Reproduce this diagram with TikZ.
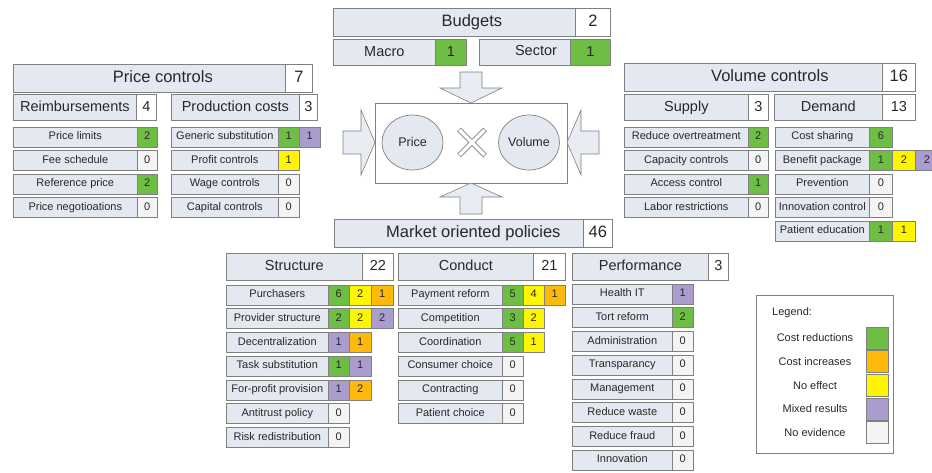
\documentclass[tikz,border=0pt]{standalone}
\usepackage{fontspec}
\setmainfont{Liberation Sans}
\usetikzlibrary{shapes.geometric}
\definecolor{bgray}{RGB}{128,128,128}
\definecolor{hfill}{RGB}{228,232,241}
\definecolor{txt}{RGB}{40,40,40}
\definecolor{cgreen}{RGB}{110,190,70}
\definecolor{cyellow}{RGB}{255,245,0}
\definecolor{corange}{RGB}{255,185,10}
\definecolor{cpurple}{RGB}{170,156,206}
\definecolor{czero}{RGB}{244,244,244}
\definecolor{afill}{RGB}{232,236,243}
\tikzset{
 hbase/.style={draw=bgray, line width=0.7pt, inner sep=0pt, anchor=north west, text=txt},
 hlab/.style={hbase, fill=hfill},
 hnum/.style={hbase, fill=white},
 big/.style={font=\fontsize{16.5}{18}\selectfont, text height=11.9pt, text depth=3.5pt},
 mid/.style={font=\fontsize{14.5}{16}\selectfont, text height=10.4pt, text depth=3pt},
 rbase/.style={draw=bgray, line width=0.6pt, inner sep=0pt, anchor=west, minimum height=20pt, font=\fontsize{11}{12}\selectfont, text height=7.9pt, text depth=2.3pt, text=txt},
 rlab/.style={rbase, fill=hfill},
 rcell/.style={rbase},
 cg/.style={fill=cgreen}, cy/.style={fill=cyellow}, co/.style={fill=corange},
 cp/.style={fill=cpurple}, cz/.style={fill=czero},
 ell/.style={ellipse, draw=bgray, line width=0.7pt, fill=hfill, minimum width=61pt, minimum height=55pt, inner sep=0pt, font=\fontsize{12.5}{14}\selectfont, text=txt},
 bigarrow/.style={draw=bgray, line width=0.6pt, fill=afill},
 legtxt/.style={font=\fontsize{11}{12}\selectfont, text=txt, inner sep=0pt},
 swatch/.style={draw=bgray, line width=0.6pt, minimum width=22pt, minimum height=22pt, inner sep=0pt},
 numtxt/.style={big, text=txt, inner sep=0pt},
}
% big header: text centred on the whole box, number box laid over its right end
\newcommand{\BigHdr}[7]{%
 \node[hlab, big, minimum width={#4-#2}, minimum height={#6-#5}] (#1) at (#2,#5) {#7};
 \node[hnum, big, minimum width={#4-#3}, minimum height={#6-#5}] (#1n) at (#3,#5) {};}
\newcommand{\HPair}[9]{%
 \node[hlab, #9, minimum width={#3-#2}, minimum height={#6-#5}] (#1) at (#2,#5) {#7};
 \node[hnum, #9, minimum width={#4-#3}, minimum height={#6-#5}] (#1n) at (#3,#5) {#8};}
\newcommand{\RowL}[5]{\node[rlab, minimum width={#3-#2}] (#1) at (#2,#4) {#5};}
\newcommand{\CellN}[6]{\node[rcell, #5, minimum width=#3] (#1) at (#2,#4) {#6};}
\begin{document}
\begin{tikzpicture}[x=1pt, y=-1pt]
\useasboundingbox (0,0) rectangle (932,472);
% ---------- Budgets ----------
\BigHdr{bud}{333}{575}{610}{8}{36}{Budgets}
\node[numtxt] (budv) at (budn.center) {2};
\node[hlab, mid, minimum width=102, minimum height=26] (macro) at (333,39) {Macro};
\node[hbase, fill=cgreen, mid, minimum width=31, minimum height=26] (macron) at (435,39) {1};
\node[hlab, mid, minimum width=91, minimum height=26] (sector) at (479,39) {};
\node[mid, text=txt, inner sep=0pt] (sectort) at (536,52) {Sector};
\node[hbase, fill=cgreen, mid, minimum width=40, minimum height=26] (sectorn) at (570,39) {1};
% ---------- Centre ----------
\node[draw=bgray, line width=0.7pt, fill=white, minimum width=192, minimum height=80, inner sep=0pt] (core) at (471,143) {};
\node[ell] (price) at (412.5,142.5) {Price};
\node[ell] (volume) at (529,142.5) {Volume};
\coordinate (cross) at (472,142.5);
\draw[bgray, line width=5pt] ([shift={(-13,-13)}]cross) -- ([shift={(13,13)}]cross)
  ([shift={(-13,13)}]cross) -- ([shift={(13,-13)}]cross);
\draw[white, line width=3.4pt] ([shift={(-12.6,-12.6)}]cross) -- ([shift={(12.6,12.6)}]cross)
  ([shift={(-12.6,12.6)}]cross) -- ([shift={(12.6,-12.6)}]cross);
\draw[bigarrow] (460,72) -- (482,72) -- (482,88) -- (502,88) -- (471,103) -- (440,88) -- (460,88) -- cycle;
\draw[bigarrow] (460,214) -- (482,214) -- (482,197) -- (502,197) -- (471,183) -- (440,197) -- (460,197) -- cycle;
\draw[bigarrow] (343,131) -- (361,131) -- (361,110) -- (375,142.5) -- (361,175) -- (361,154) -- (343,154) -- cycle;
\draw[bigarrow] (599,131) -- (581,131) -- (581,110) -- (567,142.5) -- (581,175) -- (581,154) -- (599,154) -- cycle;
% ---------- Price controls ----------
\BigHdr{pc}{13}{285}{312}{64}{92}{Price controls}
\node[numtxt] (pcv) at (pcn.center) {7};
\HPair{reimb}{13}{136}{156}{94}{120}{Reimbursements}{4}{mid}
\HPair{prod}{171}{299}{317}{94}{120}{Production costs}{3}{mid}
\RowL{r1}{13}{137}{137}{Price limits}       \CellN{r1a}{137}{20}{137}{cg}{2}
\RowL{r2}{13}{137}{160.5}{Fee schedule}     \CellN{r2a}{137}{20}{160.5}{cz}{0}
\RowL{r3}{13}{137}{184}{Reference price}    \CellN{r3a}{137}{20}{184}{cg}{2}
\RowL{r4}{13}{137}{207.5}{Price negotioations} \CellN{r4a}{137}{20}{207.5}{cz}{0}
\RowL{p1}{171}{278}{137}{Generic substitution} \CellN{p1a}{278}{21}{137}{cg}{1} \CellN{p1b}{299}{21}{137}{cp}{1}
\RowL{p2}{171}{278}{160.5}{Profit controls} \CellN{p2a}{278}{21}{160.5}{cy}{1}
\RowL{p3}{171}{278}{184}{Wage controls}     \CellN{p3a}{278}{21}{184}{cz}{0}
\RowL{p4}{171}{278}{207.5}{Capital controls} \CellN{p4a}{278}{21}{207.5}{cz}{0}
% ---------- Volume controls ----------
\BigHdr{vc}{624}{882}{915}{63}{91}{Volume controls}
\node[numtxt] (vcv) at (vcn.center) {16};
\HPair{sup}{624}{748}{768}{94}{120}{Supply}{3}{mid}
\HPair{dem}{774}{882}{915}{94}{120}{Demand}{13}{mid}
\RowL{s1}{624}{748}{137}{Reduce overtreatment} \CellN{s1a}{748}{20}{137}{cg}{2}
\RowL{s2}{624}{748}{160.5}{Capacity controls}  \CellN{s2a}{748}{20}{160.5}{cz}{0}
\RowL{s3}{624}{748}{184}{Access control}       \CellN{s3a}{748}{20}{184}{cg}{1}
\RowL{s4}{624}{748}{207.5}{Labor restrictions} \CellN{s4a}{748}{20}{207.5}{cz}{0}
\RowL{d1}{775}{869}{137}{Cost sharing}      \CellN{d1a}{869}{23}{137}{cg}{6}
\RowL{d2}{775}{869}{160.5}{Benefit package} \CellN{d2a}{869}{23}{160.5}{cg}{1} \CellN{d2b}{892}{23}{160.5}{cy}{2} \CellN{d2c}{915}{23}{160.5}{cp}{2}
\RowL{d3}{775}{869}{184}{Prevention}        \CellN{d3a}{869}{23}{184}{cz}{0}
\RowL{d4}{775}{869}{207.5}{Innovation control} \CellN{d4a}{869}{23}{207.5}{cz}{0}
\RowL{d5}{775}{869}{231}{Patient education} \CellN{d5a}{869}{23}{231}{cg}{1} \CellN{d5b}{892}{23}{231}{cy}{1}
% ---------- Market oriented policies ----------
\BigHdr{mop}{334}{583}{612}{219}{247}{Market oriented policies}
\node[numtxt] (mopv) at (mopn.center) {46};
\HPair{str}{226}{362}{393}{253}{280}{Structure}{22}{mid}
\HPair{con}{398}{533}{565}{253}{280}{Conduct}{21}{mid}
\HPair{per}{572}{708}{728}{253}{280}{Performance}{3}{mid}
\RowL{t1}{226}{328}{295}{Purchasers}           \CellN{t1a}{328}{21}{295}{cg}{6} \CellN{t1b}{349}{22}{295}{cy}{2} \CellN{t1c}{371}{22}{295}{co}{1}
\RowL{t2}{226}{328}{318.7}{Provider structure} \CellN{t2a}{328}{21}{318.7}{cg}{2} \CellN{t2b}{349}{22}{318.7}{cy}{2} \CellN{t2c}{371}{22}{318.7}{cp}{2}
\RowL{t3}{226}{328}{342.4}{Decentralization}   \CellN{t3a}{328}{21}{342.4}{cp}{1} \CellN{t3b}{349}{22}{342.4}{co}{1}
\RowL{t4}{226}{328}{366.1}{Task substitution}  \CellN{t4a}{328}{21}{366.1}{cg}{1} \CellN{t4b}{349}{22}{366.1}{cp}{1}
\RowL{t5}{226}{328}{389.8}{For-profit provision} \CellN{t5a}{328}{21}{389.8}{cp}{1} \CellN{t5b}{349}{22}{389.8}{co}{2}
\RowL{t6}{226}{328}{413.5}{Antitrust policy}   \CellN{t6a}{328}{21}{413.5}{cz}{0}
\RowL{t7}{226}{328}{437.2}{Risk redistribution} \CellN{t7a}{328}{21}{437.2}{cz}{0}
\RowL{c1}{398}{502}{295}{Payment reform}   \CellN{c1a}{502}{21}{295}{cg}{5} \CellN{c1b}{523}{21}{295}{cy}{4} \CellN{c1c}{544}{21}{295}{co}{1}
\RowL{c2}{398}{502}{318.7}{Competition}    \CellN{c2a}{502}{21}{318.7}{cg}{3} \CellN{c2b}{523}{21}{318.7}{cy}{2}
\RowL{c3}{398}{502}{342.4}{Coordination}   \CellN{c3a}{502}{21}{342.4}{cg}{5} \CellN{c3b}{523}{21}{342.4}{cy}{1}
\RowL{c4}{398}{502}{366.1}{Consumer choice} \CellN{c4a}{502}{21}{366.1}{cz}{0}
\RowL{c5}{398}{502}{389.8}{Contracting}    \CellN{c5a}{502}{21}{389.8}{cz}{0}
\RowL{c6}{398}{502}{413.5}{Patient choice} \CellN{c6a}{502}{21}{413.5}{cz}{0}
\RowL{f1}{572}{672}{294}{Health IT}        \CellN{f1a}{672}{21}{294}{cp}{1}
\RowL{f2}{572}{672}{317.7}{Tort reform}    \CellN{f2a}{672}{21}{317.7}{cg}{2}
\RowL{f3}{572}{672}{341.4}{Administration} \CellN{f3a}{672}{21}{341.4}{cz}{0}
\RowL{f4}{572}{672}{365.1}{Transparancy}   \CellN{f4a}{672}{21}{365.1}{cz}{0}
\RowL{f5}{572}{672}{388.8}{Management}     \CellN{f5a}{672}{21}{388.8}{cz}{0}
\RowL{f6}{572}{672}{412.5}{Reduce waste}   \CellN{f6a}{672}{21}{412.5}{cz}{0}
\RowL{f7}{572}{672}{436.2}{Reduce fraud}   \CellN{f7a}{672}{21}{436.2}{cz}{0}
\RowL{f8}{572}{672}{459.9}{Innovation}     \CellN{f8a}{672}{21}{459.9}{cz}{0}
% ---------- Legend ----------
\node[draw=bgray, line width=0.7pt, fill=white, minimum width=137, minimum height=158, inner sep=0pt, anchor=north west] (legend) at (756,295) {};
\node[legtxt, anchor=west] (legt) at (772,313) {Legend:};
\node[legtxt] (l1) at (815,338) {Cost reductions};   \node[swatch, fill=cgreen] (l1s) at (877,338) {};
\node[legtxt] (l2) at (815,361.6) {Cost increases};  \node[swatch, fill=corange] (l2s) at (877,361.6) {};
\node[legtxt] (l3) at (815,385.2) {No effect};       \node[swatch, fill=cyellow] (l3s) at (877,385.2) {};
\node[legtxt] (l4) at (815,408.8) {Mixed results};   \node[swatch, fill=cpurple] (l4s) at (877,408.8) {};
\node[legtxt] (l5) at (815,432.4) {No evidence};     \node[swatch, fill=czero] (l5s) at (877,432.4) {};
\end{tikzpicture}
\end{document}
